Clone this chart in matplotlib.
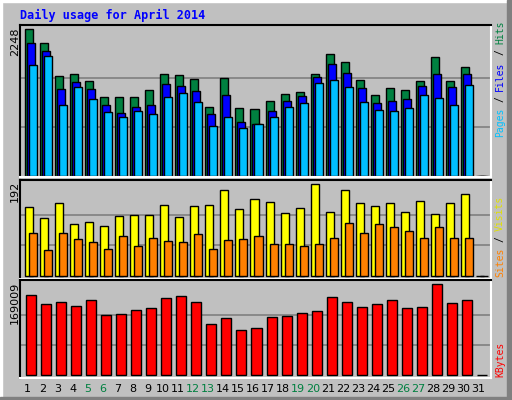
import matplotlib
matplotlib.use("Agg")
import matplotlib.pyplot as plt
from matplotlib.patches import Rectangle

days = list(range(1, 32))
hits = [2248,2033,1523,1558,1451,1206,1206,1206,1313,1558,1543,1482,1052,1497,1037,1022,
        1144,1252,1282,1558,1865,1742,1466,1236,1344,1313,1451,1819,1451,1666,0]
files = [2033,1911,1328,1441,1328,1083,961,1052,1083,1405,1374,1298,945,1236,823,792,
         991,1144,1221,1512,1712,1574,1344,1114,1144,1175,1374,1558,1359,1558,0]
pages = [1696,1834,1083,1359,1175,976,899,991,945,1206,1267,1129,761,899,731,792,
         899,1052,1114,1420,1466,1359,1129,1006,991,1037,1236,1190,1083,1390,0]
visits = [144,121,152,108,114,104,125,127,127,148,123,146,148,181,140,161,
          154,131,142,192,133,181,152,146,152,133,156,129,152,171,0]
sites = [89,54,89,77,71,56,83,62,79,73,71,87,56,75,77,83,
         66,68,62,66,79,112,91,108,102,94,79,102,79,79,0]
kbytes = [148500,131700,135500,128000,139200,111200,113100,120500,124300,142900,146600,135500,
          94500,105600,83300,87000,107500,109400,115000,118700,144800,135500,126100,131700,
          139200,124300,126100,169009,133600,139200,0]
weekend = [5, 6, 12, 13, 19, 20, 26, 27]

BG = "#c0c0c0"
W, H = 512, 400
fig = plt.figure(figsize=(5.12, 4.0), dpi=100, facecolor=BG)

def ax_at(x0, y0, x1, y1):
    return fig.add_axes([x0 / W, 1 - y1 / H, (x1 - x0) / W, (y1 - y0) / H])

def style(ax, mx, ylo, yhi):
    ax.set_facecolor(BG)
    ax.set_xlim(0, 470 / 15)
    ax.set_ylim(ylo, yhi)
    for g in (mx / 3, 2 * mx / 3):
        ax.axhline(g, color="#808080", lw=1.2, zorder=0)
    ax.set_yticks([])
    ax.set_xticks([])
    ax.spines["top"].set_color("black")
    ax.spines["left"].set_color("black")
    ax.spines["bottom"].set_color("white")
    ax.spines["right"].set_color("white")
    for s in ax.spines.values():
        s.set_linewidth(1.5)

xs = [d - 1 for d in days]
kw = dict(align="edge", edgecolor="black", linewidth=1.0, zorder=2)

a1 = ax_at(20, 25, 491, 177)
style(a1, 2248, -15, 2309)
a1.bar([x + 5/15 for x in xs], hits, width=8/15, color="#008040", **kw)
a1.bar([x + 7/15 for x in xs], files, width=8/15, color="#0000ff", **kw)
a1.bar([x + 9/15 for x in xs], pages, width=8/15, color="#00c0ff", **kw)

a2 = ax_at(20, 180, 491, 279)
style(a2, 192, -6.3, 201)
a2.bar([x + 5/15 for x in xs], visits, width=8/15, color="#ffff00", **kw)
a2.bar([x + 9/15 for x in xs], sites, width=8/15, color="#ff8000", **kw)

a3 = ax_at(20, 280, 491, 378)
style(a3, 169009, -5590, 177020)
a3.bar([x + 6/15 for x in xs], kbytes, width=10/15, color="#ff0000", **kw)
a3.set_xticks([x + 0.5 for x in xs])
a3.set_xticklabels([str(d) for d in days], fontsize=8)
a3.tick_params(axis="x", length=0, pad=4)
for lab, d in zip(a3.get_xticklabels(), days):
    lab.set_color("#008040" if d in weekend else "black")

def ftext(x, y, s, **k):
    fig.text(x / W, 1 - y / H, s, **k)

ftext(20, 15, "Daily usage for April 2014", color="#0000ff", fontsize=8.5,
      fontweight="bold", family="DejaVu Sans Mono", va="center", ha="left")

lk = dict(rotation=90, ha="center", va="top", fontsize=8, color="black")
ftext(15, 28, "2248", **lk)
ftext(15, 181, "192", **lk)
ftext(15, 282, "169009", **lk)

rk = dict(rotation=90, ha="center", va="center", fontsize=7, family="DejaVu Sans Mono")
ftext(500, 32, "Hits", color="#008040", **rk)
ftext(500, 52.5, "/", color="black", **rk)
ftext(500, 76, "Files", color="#0000ff", **rk)
ftext(500, 99, "/", color="black", **rk)
ftext(500, 122.5, "Pages", color="#00c0ff", **rk)
ftext(500, 213, "Visits", color="#e0e000", **rk)
ftext(500, 239, "/", color="black", **rk)
ftext(500, 262.5, "Sites", color="#ff8000", **rk)
ftext(500, 359.5, "KBytes", color="#ff0000", **rk)

# frame
fig.patches.append(Rectangle((0, 0), 2 / W, 1, transform=fig.transFigure, color="white"))
fig.patches.append(Rectangle((0, 1 - 2 / H), 1, 2 / H, transform=fig.transFigure, color="white"))
fig.patches.append(Rectangle((1 - 5 / W, 0), 5 / W, 1, transform=fig.transFigure, color="#808080"))
fig.patches.append(Rectangle((0, 0), 1, 3 / H, transform=fig.transFigure, color="#808080"))

fig.savefig("out.png", dpi=100, facecolor=BG)
